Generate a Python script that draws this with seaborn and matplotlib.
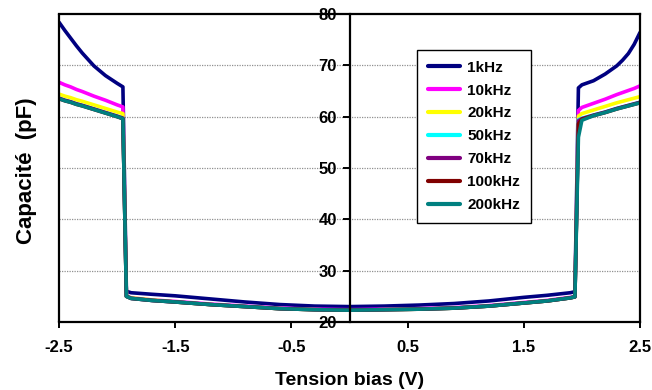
import numpy as np
import pandas as pd
import seaborn as sns
import matplotlib.pyplot as plt

# bias voltage (V), shared by all series
volts = [-2.5, -2.45, -2.4, -2.35, -2.3, -2.2, -2.1, -2.0, -1.95, -1.92, -1.88,
         -1.7, -1.5, -1.2, -0.9, -0.6, -0.3, 0.0, 0.3, 0.6, 0.9, 1.2, 1.5, 1.7,
         1.9, 1.94, 1.97, 2.0, 2.1, 2.2, 2.3, 2.35, 2.4, 2.45, 2.5]

# capacitance (pF)
c_1k = [78.4, 76.8, 75.3, 73.8, 72.4, 69.9, 68.0, 66.5, 65.8, 26.0, 25.7,
        25.4, 25.1, 24.5, 23.9, 23.4, 23.1, 23.0, 23.1, 23.3, 23.6, 24.1, 24.8,
        25.2, 25.7, 25.9, 65.6, 66.2, 67.0, 68.3, 69.9, 71.0, 72.3, 74.1, 76.4]
c_10k = [66.7, 66.2, 65.8, 65.3, 64.9, 64.0, 63.2, 62.3, 61.9, 25.1, 24.7,
         24.3, 24.0, 23.5, 23.1, 22.7, 22.5, 22.4, 22.5, 22.6, 22.8, 23.2, 23.8,
         24.2, 24.8, 25.0, 61.2, 61.8, 62.6, 63.4, 64.3, 64.7, 65.1, 65.5, 66.0]
c_20k = [64.4, 64.0, 63.7, 63.3, 63.0, 62.3, 61.6, 60.9, 60.6, 25.0, 24.7,
         24.3, 23.9, 23.4, 23.0, 22.6, 22.4, 22.3, 22.4, 22.5, 22.7, 23.1, 23.7,
         24.1, 24.7, 24.9, 60.1, 60.6, 61.3, 62.0, 62.7, 63.0, 63.3, 63.6, 63.9]
c_50k = [63.6, 63.2, 62.9, 62.5, 62.2, 61.5, 60.8, 60.1, 59.7, 25.0, 24.6,
         24.2, 23.9, 23.4, 23.0, 22.6, 22.4, 22.3, 22.4, 22.5, 22.7, 23.1, 23.7,
         24.1, 24.7, 24.9, 59.4, 59.7, 60.3, 60.9, 61.6, 61.9, 62.2, 62.5, 62.8]
c_70k = [63.6, 63.2, 62.9, 62.5, 62.2, 61.5, 60.8, 60.1, 59.7, 25.0, 24.6,
         24.2, 23.9, 23.4, 23.0, 22.6, 22.4, 22.3, 22.4, 22.5, 22.7, 23.1, 23.7,
         24.1, 24.7, 24.9, 59.2, 59.6, 60.3, 60.9, 61.6, 61.9, 62.2, 62.5, 62.8]
c_100k = [63.5, 63.1, 62.8, 62.4, 62.1, 61.4, 60.7, 60.0, 59.6, 25.0, 24.6,
          24.2, 23.9, 23.4, 23.0, 22.6, 22.4, 22.3, 22.4, 22.5, 22.7, 23.1, 23.7,
          24.1, 24.7, 24.9, 58.6, 59.5, 60.2, 60.8, 61.5, 61.8, 62.1, 62.4, 62.7]
c_200k = [63.5, 63.1, 62.8, 62.4, 62.1, 61.4, 60.7, 60.0, 59.6, 25.0, 24.6,
          24.2, 23.9, 23.4, 23.0, 22.6, 22.4, 22.3, 22.4, 22.5, 22.7, 23.1, 23.7,
          24.1, 24.7, 24.9, 56.0, 59.3, 60.2, 60.8, 61.5, 61.8, 62.1, 62.4, 62.7]

freqs = ["1kHz", "10kHz", "20kHz", "50kHz", "70kHz", "100kHz", "200kHz"]
colors = ["#000080", "#FF00FF", "#FFFF00", "#00FFFF", "#800080", "#800000", "#008080"]
series = [c_1k, c_10k, c_20k, c_50k, c_70k, c_100k, c_200k]

df = pd.concat([pd.DataFrame({"V": volts, "C": c, "freq": f})
                for f, c in zip(freqs, series)], ignore_index=True)

sns.set_style("white")
plt.rcParams["font.family"] = ["Liberation Sans", "DejaVu Sans"]
plt.rcParams["font.weight"] = "bold"
plt.rcParams["text.color"] = "black"
plt.rcParams["axes.labelcolor"] = "black"

fig = plt.figure(figsize=(6.52, 3.90), dpi=100)
ax = fig.add_axes([59 / 652, 1 - 322 / 390, 581 / 652, 308 / 390])

sns.lineplot(data=df, x="V", y="C", hue="freq", hue_order=freqs,
             palette=colors, sort=False, estimator=None, lw=2.6, ax=ax)

ax.set_xlim(-2.5, 2.5)
ax.set_ylim(20, 80)
ax.set_xticks([-2.5, -1.5, -0.5, 0.5, 1.5, 2.5])
ax.set_xticklabels(["-2.5", "-1.5", "-0.5", "0.5", "1.5", "2.5"])
ax.set_yticks(range(20, 81, 10))

# y axis sits at V = 0, box frame around the plot
ax.spines["left"].set_position(("data", 0))
for s in ax.spines.values():
    s.set_color("black")
    s.set_linewidth(1.6)
ax.axvline(-2.5, color="black", lw=1.6, clip_on=False, zorder=5)

for y in range(30, 80, 10):
    ax.axhline(y, color="#909090", lw=0.9, ls=(0, (1, 1)), zorder=0)

ax.tick_params(axis="both", direction="out", width=1.4,
               labelsize=12, colors="black")
ax.tick_params(axis="x", bottom=True, length=4, pad=9)
ax.tick_params(axis="y", left=True, length=5, pad=4)

ax.set_xlabel("Tension bias (V)", fontsize=14, fontweight="bold", labelpad=12)
ax.set_ylabel("Capacité  (pF)", fontsize=16, fontweight="bold")
ax.yaxis.set_label_coords(-0.038, 0.49)

leg = ax.legend(loc="upper left", bbox_to_anchor=(0.616, 0.883), frameon=True,
                fancybox=False, edgecolor="black", framealpha=1, borderaxespad=0,
                prop={"size": 11, "weight": "bold"}, labelspacing=0.58,
                handlelength=2.1, handletextpad=0.5, borderpad=0.7)
leg.get_frame().set_linewidth(1.0)
for line in leg.get_lines():
    line.set_linewidth(3)
for t in leg.get_texts():
    t.set_color("black")

fig.savefig("out.png", dpi=100)
